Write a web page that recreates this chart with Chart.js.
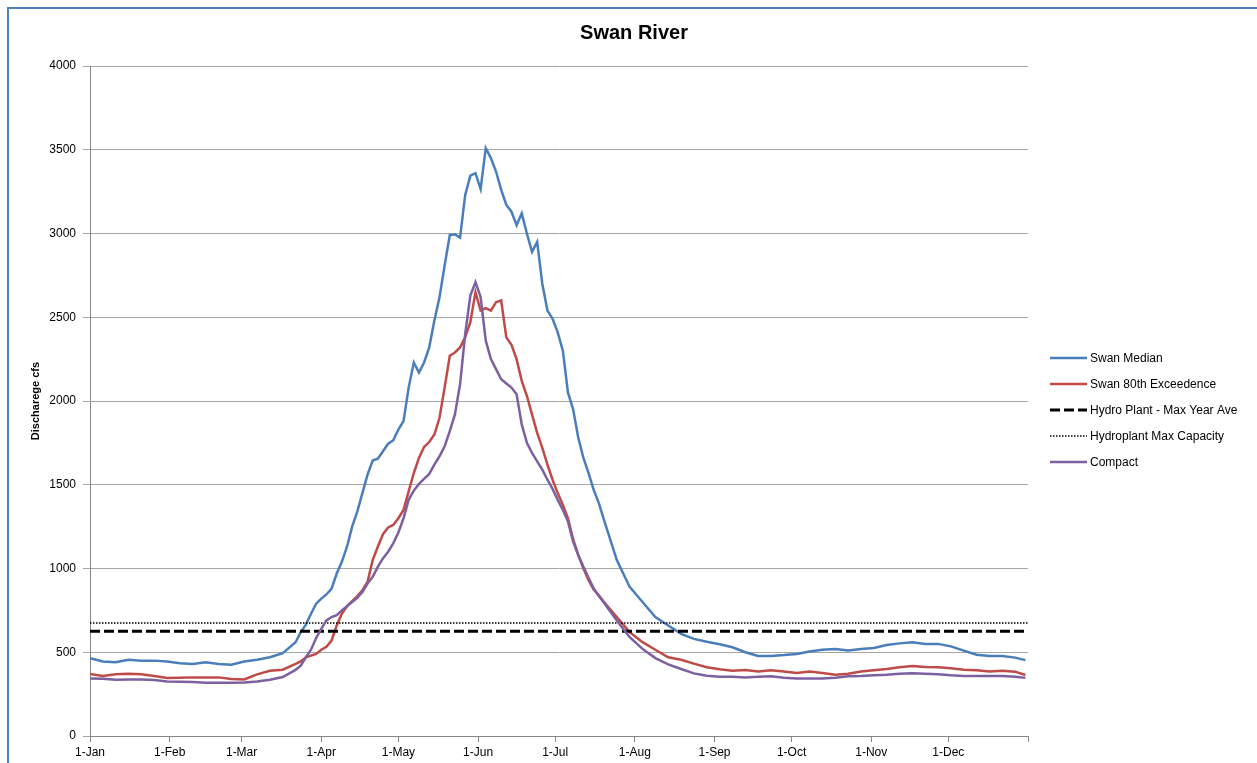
<!DOCTYPE html>
<html>
<head>
<meta charset="utf-8">
<title>Swan River</title>
<script src="https://cdn.jsdelivr.net/npm/chart.js@4.4.1/dist/chart.umd.min.js"></script>
<style>
html, body { margin: 0; padding: 0; background: #fff; overflow: hidden; }
#frame { position: absolute; left: 7px; top: 7px; width: 1300px; height: 800px; border: 2px solid #4f81bd; }
#wrap { position: absolute; left: 0; top: 0; width: 1257px; height: 763px; }
</style>
</head>
<body>
<div id="frame"></div>
<div id="wrap"><canvas id="swanChart"></canvas></div>
<script>
// x positions (day of year) shared by all series
var days = [0,5,10,15,20,25,30,35,40,45,50,55,60,65,70,75,80,
    82,84,86,88,90,92,94,96,98,100,
    102,104,106,108,110,112,114,116,118,120,
    122,124,126,128,130,132,134,136,138,140,
    142,144,146,148,150,152,154,156,158,160,
    162,164,166,168,170,172,174,176,178,180,
    182,184,186,188,190,192,194,196,198,200,
    205,210,215,220,225,230,235,240,245,250,
    255,260,265,270,275,280,285,290,295,300,
    305,310,315,320,325,330,335,340,345,350,
    355,360,364];

var swanMedian = [465,445,440,455,450,450,445,435,430,440,430,425,445,455,470,495,560,
    620,665,730,790,820,845,880,970,1040,1130,
    1250,1340,1450,1560,1645,1655,1700,1745,1765,1830,
    1880,2080,2230,2170,2230,2320,2480,2620,2810,2990,
    2995,2975,3230,3345,3360,3265,3510,3450,3370,3260,
    3170,3130,3050,3120,3000,2890,2950,2700,2540,2490,
    2410,2300,2050,1950,1780,1660,1570,1470,1390,1290,
    1050,890,800,710,660,610,580,563,548,530,
    500,478,478,483,490,505,515,520,510,520,
    525,543,553,560,550,550,535,510,485,477,
    477,468,453];

var swan80th = [370,358,368,372,368,358,346,348,350,350,350,340,338,368,390,396,430,
    445,470,480,490,515,533,570,660,730,775,
    805,835,870,920,1050,1130,1205,1245,1260,1300,
    1350,1460,1570,1660,1725,1755,1800,1900,2080,2270,
    2290,2320,2380,2470,2650,2540,2555,2540,2590,2600,
    2380,2335,2250,2120,2030,1920,1810,1720,1620,1530,
    1450,1380,1300,1175,1080,1000,930,875,840,800,
    710,620,560,515,470,455,432,410,398,390,
    394,385,392,385,376,385,376,366,372,385,
    392,400,410,418,412,410,405,396,392,385,
    390,384,364];

var compact = [344,342,336,338,338,334,326,324,322,318,318,318,320,325,336,352,395,
    420,470,515,585,640,690,710,722,750,775,
    800,825,860,910,950,1010,1060,1100,1150,1215,
    1300,1410,1465,1505,1535,1565,1620,1670,1730,1820,
    1920,2100,2400,2630,2710,2620,2360,2250,2190,2130,
    2105,2080,2040,1860,1750,1690,1640,1590,1530,1475,
    1410,1350,1280,1160,1080,1010,945,880,835,795,
    690,590,520,465,428,400,374,360,354,354,
    350,354,357,348,344,344,344,348,356,358,
    362,366,372,374,372,368,362,358,358,358,
    358,354,347];

var hydroMaxYearAve = 625;
var hydroMaxCapacity = 675;

var monthDays = [0,31,59,90,120,151,181,212,243,273,304,334,365];
var monthLabels = ["1-Jan","1-Feb","1-Mar","1-Apr","1-May","1-Jun","1-Jul","1-Aug","1-Sep","1-Oct","1-Nov","1-Dec",""];

var seriesNames = ["Swan Median", "Swan 80th Exceedence", "Hydro Plant - Max Year Ave", "Hydroplant Max Capacity", "Compact"];
var seriesColors = ["#4a7ebb", "#be4b48", "#000000", "#000000", "#7d60a0"];

function pts(vals) {
    return days.map(function (d, i) { return { x: d, y: vals[i] }; });
}
function flat(v) {
    return [{ x: 0, y: v }, { x: 365, y: v }];
}

var FONT = "'Liberation Sans', Arial, sans-serif";

// title + legend drawn by hand so they sit where Excel put them
var extras = {
    id: "extras",
    afterDraw: function (chart) {
        var ctx = chart.ctx;
        ctx.save();
        ctx.fillStyle = "#000";
        ctx.font = "bold 20px " + FONT;
        ctx.textAlign = "center";
        ctx.textBaseline = "middle";
        ctx.fillText("Swan River", 634, 33);

        ctx.font = "12px " + FONT;
        ctx.textAlign = "left";
        chart.data.datasets.forEach(function (ds, i) {
            var y = 358 + i * 26;
            ctx.save();
            ctx.strokeStyle = ds.borderColor;
            ctx.lineWidth = ds.borderWidth;
            ctx.setLineDash(ds.borderDash || []);
            ctx.beginPath();
            ctx.moveTo(1050, y);
            ctx.lineTo(1087, y);
            ctx.stroke();
            ctx.restore();
            ctx.fillText(ds.label, 1090, y + 1);
        });
        ctx.restore();
    }
};

new Chart("swanChart", {
    type: "line",
    data: {
        datasets: [
            { label: seriesNames[0], data: pts(swanMedian), borderColor: seriesColors[0], borderWidth: 2.5, order: 4 },
            { label: seriesNames[1], data: pts(swan80th), borderColor: seriesColors[1], borderWidth: 2.5, order: 3 },
            { label: seriesNames[2], data: flat(hydroMaxYearAve), borderColor: seriesColors[2], borderWidth: 3, borderDash: [10, 4], order: 2 },
            { label: seriesNames[3], data: flat(hydroMaxCapacity), borderColor: seriesColors[3], borderWidth: 1.5, borderDash: [1.5, 1.5], order: 1 },
            { label: seriesNames[4], data: pts(compact), borderColor: seriesColors[4], borderWidth: 2.5, order: 0 }
        ]
    },
    options: {
        responsive: true,
        maintainAspectRatio: false,
        animation: false,
        elements: { point: { radius: 0 }, line: { tension: 0, fill: false } },
        layout: { padding: { left: 0, right: 229, top: 66, bottom: 0 } },
        plugins: { legend: { display: false }, title: { display: false }, tooltip: { enabled: false } },
        scales: {
            x: {
                type: "linear",
                min: 0,
                max: 365,
                afterBuildTicks: function (s) { s.ticks = monthDays.map(function (v) { return { value: v }; }); },
                afterFit: function (s) { s.height = 27; },
                ticks: {
                    autoSkip: false,
                    maxRotation: 0,
                    padding: 3,
                    color: "#000",
                    font: { family: FONT, size: 12 },
                    callback: function (v, i) { return monthLabels[i]; }
                },
                grid: { drawOnChartArea: false, tickLength: 6, color: "#868686" },
                border: { color: "#868686" }
            },
            y: {
                min: 0,
                max: 4000,
                afterFit: function (s) { s.width = 90; },
                ticks: {
                    stepSize: 500,
                    padding: 7,
                    color: "#000",
                    font: { family: FONT, size: 12 },
                    callback: function (v) { return String(v); }
                },
                grid: { color: "#a6a6a6", tickLength: 7 },
                border: { color: "#868686" },
                title: {
                    display: true,
                    text: "Discharege cfs",
                    color: "#000",
                    font: { family: FONT, size: 11, weight: "bold" },
                    padding: { top: 29, bottom: 0 }
                }
            }
        }
    },
    plugins: [extras]
});
</script>
</body>
</html>
